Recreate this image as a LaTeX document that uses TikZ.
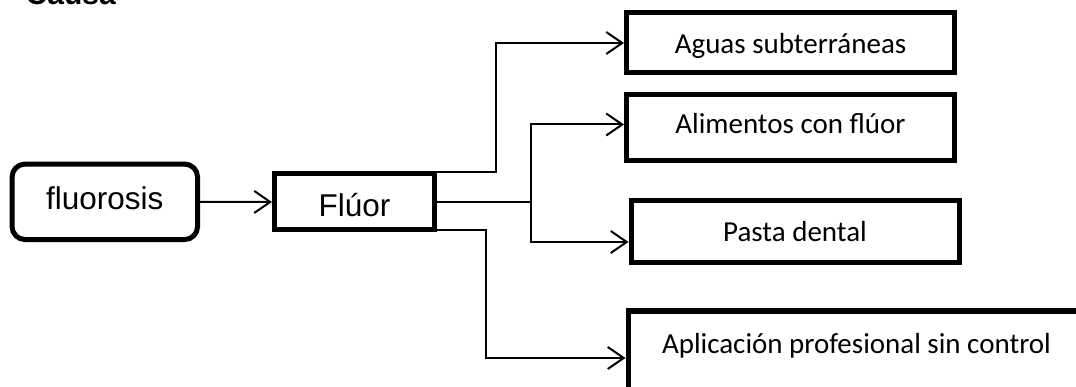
\documentclass[tikz,border=0pt]{standalone}
\usepackage{fontspec}
\setmainfont{Carlito}
\newfontfamily\arialf{Liberation Sans}
\usetikzlibrary{arrows.meta}
\begin{document}
\begin{tikzpicture}[x=1pt,y=-1pt,
  box/.style={draw, line width=5pt, inner sep=0pt, rectangle},
  rbox/.style={box, rounded corners=13pt},
  lbl/.style={font=\fontsize{29}{34}\selectfont},
  sans/.style={font=\arialf\fontsize{31.5}{36}\selectfont},
  wire/.style={line width=2pt},
  conn/.style={wire, -{Straight Barb[length=16pt,width=22pt]}},
  bl/.style={text height=#1, text depth=0pt}]
\useasboundingbox (0,0) rectangle (1076,387);
\clip (0,0) rectangle (1076,387);

% heading
\node[anchor=base west, inner sep=0pt, font=\arialf\bfseries\fontsize{30}{36}\selectfont] (causa) at (25.5,4.5) {Causa};

% cause and agent
\node[rbox, sans, bl=14.6pt, minimum width=185.5pt, minimum height=75.5pt] (fluo) at (104.8,201.8) {fluorosis};
\node[box, sans, bl=29.4pt, minimum width=160pt, minimum height=56pt] (fluor) at (354.5,202) {Flúor};

% sources
\node[box, lbl, bl=22pt, minimum width=328pt, minimum height=60pt] (agua) at (790.5,43) {Aguas subterráneas};
\node[box, lbl, bl=12pt, minimum width=328pt, minimum height=66pt] (ali) at (790.5,128) {Alimentos con flúor};
\node[box, lbl, bl=20pt, minimum width=328pt, minimum height=62pt] (pasta) at (795,232) {Pasta dental};
\node[box, lbl, text height=0pt, text depth=10pt, minimum width=457pt, minimum height=94pt, anchor=north west] (apl) at (625.5,308.5) {Aplicación profesional sin control};

% connectors
\draw[conn] (fluo.east) -- (fluor.west);
\draw[conn] ([yshift=-1pt]fluor.north east) -- ++(59,0) |- (agua.west);
\draw[wire] (fluor.east) -- ++(94,0) coordinate (fork);
\draw[conn] (fork) |- ([yshift=3.5pt]ali.west);
\draw[conn] (fork) |- ([yshift=-10pt]pasta.west);
\draw[conn] ([yshift=2pt]fluor.south east) -- ++(49,0) |- (apl.west);
\end{tikzpicture}
\end{document}
